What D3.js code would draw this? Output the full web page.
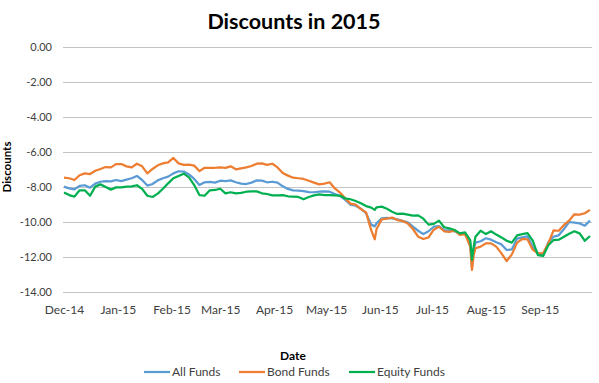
<!DOCTYPE html>
<html>
<head>
<meta charset="utf-8">
<script src="https://cdn.jsdelivr.net/npm/d3@7"></script>
<style>
  html, body { margin: 0; padding: 0; background: #ffffff; }
  svg { display: block; }
  text { font-family: Lato, "Open Sans", sans-serif; fill: #404040; }
</style>
</head>
<body>
<svg id="chart" width="599" height="383"></svg>
<script>
const dates = [
  "2014-12-01","2014-12-04","2014-12-07","2014-12-10","2014-12-13","2014-12-16","2014-12-19","2014-12-22","2014-12-25","2014-12-28","2014-12-31",
  "2015-01-03","2015-01-06","2015-01-09","2015-01-12","2015-01-15","2015-01-18",
  "2015-01-21","2015-01-24","2015-01-27","2015-01-30","2015-02-02","2015-02-05","2015-02-08","2015-02-11","2015-02-14","2015-02-17","2015-02-20","2015-02-23","2015-02-26","2015-03-01","2015-03-04","2015-03-07","2015-03-10",
  "2015-03-13","2015-03-16","2015-03-19","2015-03-22","2015-03-25","2015-03-28","2015-03-31","2015-04-03","2015-04-06","2015-04-09","2015-04-12","2015-04-15","2015-04-18","2015-04-21","2015-04-24","2015-04-27","2015-04-30","2015-05-03",
  "2015-05-06","2015-05-09","2015-05-12","2015-05-15","2015-05-18","2015-05-21","2015-05-24","2015-05-27","2015-05-29","2015-05-30","2015-06-02","2015-06-05","2015-06-08","2015-06-11","2015-06-14","2015-06-17","2015-06-20","2015-06-23",
  "2015-06-26","2015-06-29","2015-07-02","2015-07-05","2015-07-08","2015-07-11","2015-07-14","2015-07-17","2015-07-20","2015-07-23","2015-07-24","2015-07-25","2015-07-26","2015-07-29","2015-08-01","2015-08-04","2015-08-07","2015-08-10","2015-08-13",
  "2015-08-16","2015-08-19","2015-08-22","2015-08-25","2015-08-28","2015-08-31","2015-09-03","2015-09-06","2015-09-09","2015-09-12","2015-09-15","2015-09-18","2015-09-21","2015-09-24","2015-09-27","2015-09-30"
];

const allFunds = [
  -7.98,-8.08,-8.13,-7.94,-7.90,-8.04,-7.81,-7.70,-7.66,-7.68,-7.60,-7.66,-7.58,-7.50,-7.37,-7.60,-7.92,
  -7.83,-7.62,-7.50,-7.41,-7.22,-7.10,-7.12,-7.28,-7.54,-7.89,-7.73,-7.71,-7.75,-7.64,-7.66,-7.62,-7.73,
  -7.81,-7.83,-7.75,-7.62,-7.64,-7.73,-7.70,-7.75,-7.96,-8.11,-8.19,-8.21,-8.23,-8.29,-8.30,-8.27,-8.25,-8.27,
  -8.40,-8.51,-8.74,-9.01,-9.07,-9.24,-9.50,-10.15,-10.25,-10.08,-9.79,-9.77,-9.79,-9.85,-9.94,-10.02,-10.27,-10.50,
  -10.69,-10.53,-10.27,-10.23,-10.46,-10.48,-10.53,-10.65,-10.69,-11.22,-12.55,-11.60,-11.18,-11.10,-10.93,-11.01,-11.16,-11.28,-11.60,
  -11.56,-10.95,-10.88,-10.82,-11.43,-11.79,-11.89,-11.16,-10.84,-10.76,-10.40,-10.00,-10.04,-10.08,-10.21,-9.92
];

const bondFunds = [
  -7.47,-7.50,-7.60,-7.33,-7.22,-7.26,-7.07,-6.97,-6.86,-6.88,-6.69,-6.69,-6.82,-6.88,-6.67,-6.82,-7.22,
  -6.97,-6.76,-6.65,-6.59,-6.34,-6.65,-6.74,-6.72,-6.78,-7.09,-6.90,-6.90,-6.90,-6.88,-6.91,-6.82,-6.99,
  -6.93,-6.88,-6.80,-6.67,-6.65,-6.74,-6.67,-6.88,-7.20,-7.35,-7.47,-7.50,-7.54,-7.64,-7.75,-7.85,-7.81,-7.73,
  -8.08,-8.32,-8.65,-8.95,-9.01,-9.26,-9.45,-10.48,-10.99,-10.42,-9.85,-9.81,-9.75,-9.89,-9.94,-10.08,-10.40,-10.84,
  -10.97,-10.88,-10.44,-10.27,-10.53,-10.57,-10.48,-10.74,-10.69,-11.41,-12.74,-11.89,-11.50,-11.41,-11.22,-11.22,-11.41,-11.79,-12.23,
  -11.85,-11.18,-10.97,-10.99,-11.58,-11.79,-11.79,-11.22,-10.48,-10.50,-10.17,-9.92,-9.56,-9.58,-9.50,-9.31
];

const equityFunds = [
  -8.32,-8.46,-8.55,-8.19,-8.19,-8.50,-7.98,-7.85,-8.00,-8.15,-8.02,-8.02,-7.98,-7.96,-7.90,-8.11,-8.50,
  -8.57,-8.38,-8.10,-7.79,-7.50,-7.37,-7.24,-7.45,-7.89,-8.46,-8.50,-8.19,-8.17,-8.10,-8.36,-8.30,-8.36,
  -8.34,-8.27,-8.25,-8.25,-8.36,-8.40,-8.48,-8.48,-8.46,-8.53,-8.55,-8.57,-8.70,-8.57,-8.48,-8.42,-8.46,-8.46,
  -8.48,-8.50,-8.65,-8.70,-8.80,-8.93,-9.09,-9.18,-9.31,-9.16,-9.12,-9.24,-9.41,-9.54,-9.52,-9.58,-9.64,-9.62,
  -9.81,-10.15,-10.11,-9.92,-10.30,-10.36,-10.46,-10.65,-10.59,-11.03,-12.17,-11.41,-10.84,-10.50,-10.69,-10.53,-10.72,-10.88,-11.07,
  -11.18,-10.76,-10.69,-10.63,-11.07,-11.89,-11.94,-11.33,-11.03,-11.01,-10.84,-10.67,-10.53,-10.65,-11.07,-10.80
];

const yTicks = [0, -2, -4, -6, -8, -10, -12, -14];
const monthTicks = ["2014-12-01","2015-01-01","2015-02-01","2015-03-01","2015-04-01","2015-05-01","2015-06-01","2015-07-01","2015-08-01","2015-09-01"];
const seriesNames = ["All Funds", "Bond Funds", "Equity Funds"];
const seriesColors = ["#5B9BD5", "#ED7D31", "#00B050"];

const parse = d3.timeParse("%Y-%m-%d");
const dateObjs = dates.map(parse);
const seriesValues = [allFunds, bondFunds, equityFunds];

const svg = d3.select("#chart");
const plotLeft = 63, plotRight = 592, plotTop = 47, plotBottom = 292;

const x = d3.scaleTime()
  .domain([parse("2014-12-01"), parse("2015-09-30")])
  .range([64, 590]);
const y = d3.scaleLinear().domain([-14, 0]).range([plotBottom, plotTop]);

// title
svg.append("text")
  .attr("x", 294).attr("y", 29)
  .attr("text-anchor", "middle")
  .style("font-size", "21.5px").style("font-weight", "bold").style("fill", "#000")
  .text("Discounts in 2015");

// y axis with gridlines
const yAxis = svg.append("g")
  .attr("transform", `translate(${plotLeft},0)`)
  .call(d3.axisLeft(y).tickValues(yTicks).tickFormat(d => d.toFixed(2))
    .tickSize(-(plotRight - plotLeft)).tickPadding(11));
yAxis.select(".domain").remove();
yAxis.selectAll(".tick line").attr("stroke", "#c4c4c4").attr("stroke-width", 1);
yAxis.selectAll(".tick text").style("font-size", "11px").style("fill", "#404040")
  .style("font-family", "Lato, sans-serif");

// x axis labels
const xAxis = svg.append("g")
  .attr("transform", `translate(0,${plotBottom})`)
  .call(d3.axisBottom(x).tickValues(monthTicks.map(parse))
    .tickFormat(d3.timeFormat("%b-%y")).tickSize(0).tickPadding(13));
xAxis.select(".domain").remove();
xAxis.selectAll(".tick text").style("font-size", "12px").style("fill", "#404040")
  .style("font-family", "Lato, sans-serif");

// axis titles
svg.append("text")
  .attr("transform", "translate(11,167) rotate(-90)")
  .attr("text-anchor", "middle")
  .style("font-size", "11.5px").style("font-weight", "bold").style("fill", "#000")
  .text("Discounts");
svg.append("text")
  .attr("x", 293).attr("y", 360)
  .attr("text-anchor", "middle")
  .style("font-size", "12px").style("font-weight", "bold").style("fill", "#000")
  .text("Date");

// lines
const line = d3.line()
  .x((d, i) => x(dateObjs[i]))
  .y(d => y(d));
svg.append("g").selectAll("path")
  .data(seriesValues)
  .join("path")
  .attr("d", d => line(d))
  .attr("fill", "none")
  .attr("stroke", (d, i) => seriesColors[i])
  .attr("stroke-width", 2.25)
  .attr("stroke-linejoin", "round");

// legend
const legendX = [144, 239, 349];
const lg = svg.append("g");
seriesNames.forEach((name, i) => {
  lg.append("line")
    .attr("x1", legendX[i]).attr("x2", legendX[i] + 26)
    .attr("y1", 372).attr("y2", 372)
    .attr("stroke", seriesColors[i]).attr("stroke-width", 2.25);
  lg.append("text")
    .attr("x", legendX[i] + 28).attr("y", 376)
    .style("font-size", "12px").style("fill", "#404040")
    .text(name);
});
</script>
</body>
</html>
